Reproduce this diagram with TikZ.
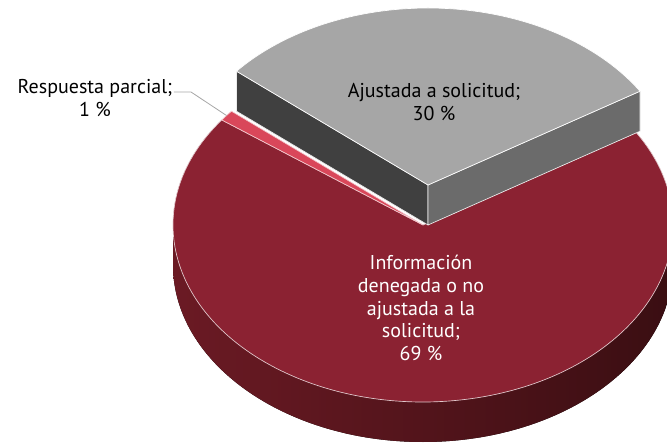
\documentclass[tikz,border=0pt]{standalone}
\usepackage{fontspec}
\setmainfont{PT Sans}
\usetikzlibrary{positioning, calc}
\definecolor{redtop}{HTML}{8B2232}
\definecolor{redsideL}{HTML}{6B1A24}
\definecolor{redsideM}{HTML}{561520}
\definecolor{redsideR}{HTML}{3A0E12}
\definecolor{pinktop}{HTML}{D9475A}
\definecolor{greytop}{HTML}{A6A6A6}
\definecolor{greydark}{HTML}{404040}
\definecolor{greymid}{HTML}{6B6B6B}
\begin{document}
\begin{tikzpicture}
    [
        x=0.75pt, y=0.75pt, line join=round,
        red_face/.style={fill=redtop, draw=white!75!redtop, line width=0.5pt},
        pink_face/.style={fill=pinktop, draw=white!70!pinktop, line width=0.5pt},
        grey_face/.style={fill=greytop, draw=white, line width=0.5pt},
        dark_face/.style={fill=greydark, draw=white!90!greydark, line width=0.5pt},
        mid_face/.style={fill=greymid, draw=white!90!greymid, line width=0.5pt},
        black_label/.style={align=center, text=black, font=\fontsize{15}{17.5}\selectfont},
        white_label/.style={align=center, text=white, font=\fontsize{15}{17}\selectfont},
        leader/.style={draw=greytop, line width=0.6pt},
    ]
        \useasboundingbox (0,0) rectangle (667,446);
        \coordinate (c) at (423,221) ;
        \coordinate (g) at (428,261) ;
        \coordinate (gb) at (428,221) ;
        \fill[left color=redsideL, middle color=redsideM, right color=redsideR] ($(c)+(180:250 and 177)$) arc[start angle=180, end angle=360, x radius=250, y radius=177] -- ++(0,-40) arc[start angle=360, end angle=180, x radius=250, y radius=177] -- cycle ;
        \draw[red_face] (c) -- ($(c)+(143.6:250 and 177)$) arc[start angle=143.6, end angle=392, x radius=250, y radius=177] -- cycle ;
        \draw[pink_face] (c) -- ($(c)+(140:250 and 177)$) coordinate (pinkcorner) arc[start angle=140, end angle=143.6, x radius=250, y radius=177] -- cycle ;
        \coordinate (pinkrim) at ($(c)+(141.8:250 and 177)$) ;
        \draw[dark_face] (g) -- ($(g)+(140:250 and 177)$) -- ($(gb)+(140:250 and 177)$) -- (gb) -- cycle ;
        \draw[mid_face] (g) -- ($(g)+(32:250 and 177)$) -- ($(gb)+(32:250 and 177)$) -- (gb) -- cycle ;
        \draw[grey_face] (g) -- ($(g)+(32:250 and 177)$) arc[start angle=32, end angle=140, x radius=250, y radius=177] -- cycle ;
        \node[black_label] (lblfit) at (434,344) {Ajustada a solicitud;\\30 \%} ;
        \node[white_label] (lbldenied) at (421,138) {Información\\denegada o no\\ajustada a la\\solicitud;\\69 \%} ;
        \node[black_label, inner sep=1pt] (lblpartial) at (95,348) {Respuesta parcial;\\1 \%} ;
        \coordinate (kink) at (191,354) ;
        \draw[leader] (lblpartial.east |- kink) -- (kink) -- (pinkrim) ;
    \end{tikzpicture}
\end{document}
